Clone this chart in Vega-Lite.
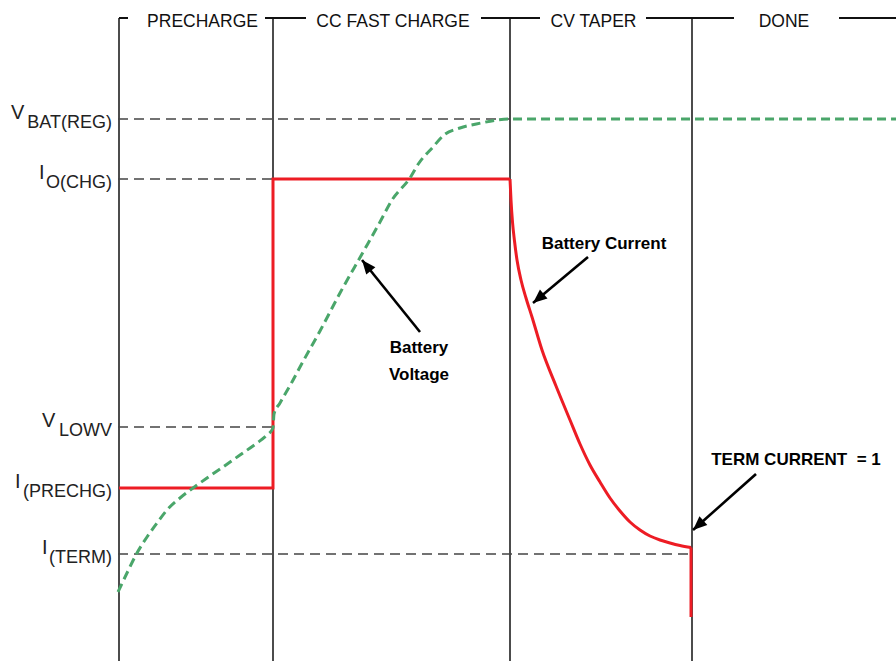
{
  "$schema": "https://vega.github.io/schema/vega-lite/v6.json",
  "autosize": "none",
  "width": 896,
  "height": 661,
  "padding": 0,
  "background": "white",
  "config": {"view": {"stroke": null}},
  "datasets": {
    "phases": [{"t": 119}, {"t": 273}, {"t": 510}, {"t": 692}],
    "headerSegs": [
      {"t1": 119, "t2": 128},
      {"t1": 265, "t2": 306},
      {"t1": 481, "t2": 540},
      {"t1": 646, "t2": 734},
      {"t1": 839, "t2": 896}
    ],
    "headers": [
      {"name": "PRECHARGE", "t": 202.5},
      {"name": "CC FAST CHARGE", "t": 393},
      {"name": "CV TAPER", "t": 593.5},
      {"name": "DONE", "t": 784}
    ],
    "levels": [
      {"main": "V", "sub": "BAT(REG)", "level": 119, "labelT": 11, "t1": 118, "t2": 510},
      {"main": "I", "sub": "O(CHG)", "level": 179, "labelT": 39, "t1": 118, "t2": 273},
      {"main": "V", "sub": "LOWV", "level": 427, "labelT": 42, "t1": 118, "t2": 273},
      {"main": "I", "sub": "(PRECHG)", "level": 488, "labelT": 15, "t1": 118, "t2": 118},
      {"main": "I", "sub": "(TERM)", "level": 554, "labelT": 42, "t1": 118, "t2": 692}
    ],
    "voltage": [
      {"t": 118, "v": 592}, {"t": 127, "v": 573}, {"t": 137, "v": 553}, {"t": 147, "v": 537},
      {"t": 157, "v": 523}, {"t": 167, "v": 510}, {"t": 180, "v": 498}, {"t": 193, "v": 488},
      {"t": 207, "v": 478}, {"t": 223, "v": 467}, {"t": 240, "v": 455}, {"t": 257, "v": 443},
      {"t": 266, "v": 436}, {"t": 273, "v": 428}, {"t": 274, "v": 414}, {"t": 280, "v": 403},
      {"t": 292, "v": 382}, {"t": 300, "v": 367}, {"t": 320, "v": 331}, {"t": 340, "v": 293},
      {"t": 362, "v": 254}, {"t": 380, "v": 222}, {"t": 392, "v": 200}, {"t": 410, "v": 178},
      {"t": 419, "v": 163}, {"t": 433, "v": 147}, {"t": 444, "v": 135}, {"t": 460, "v": 128},
      {"t": 481, "v": 123}, {"t": 497, "v": 120}, {"t": 510, "v": 119}, {"t": 896, "v": 119}
    ],
    "currentStep": [
      {"i": 1, "t": 119, "v": 488}, {"i": 2, "t": 273, "v": 488}, {"i": 3, "t": 273, "v": 179},
      {"i": 4, "t": 510, "v": 179}
    ],
    "currentTaper": [
      {"t": 510, "v": 179}, {"t": 511, "v": 200}, {"t": 512.5, "v": 222}, {"t": 514.5, "v": 241},
      {"t": 517, "v": 260}, {"t": 521, "v": 280}, {"t": 526, "v": 298}, {"t": 532, "v": 317},
      {"t": 542, "v": 350}, {"t": 556, "v": 386}, {"t": 570, "v": 420}, {"t": 580, "v": 444},
      {"t": 590, "v": 465}, {"t": 600, "v": 482}, {"t": 610, "v": 498}, {"t": 620, "v": 511},
      {"t": 630, "v": 522}, {"t": 640, "v": 530}, {"t": 650, "v": 536}, {"t": 660, "v": 540},
      {"t": 670, "v": 543}, {"t": 680, "v": 545.5}, {"t": 691, "v": 547.5}
    ],
    "currentDrop": [
      {"t": 691, "v": 547.5}, {"t": 691, "v": 617}
    ],
    "arrows": [
      {"arrow": "voltage", "t": 420, "v": 332, "t2": 362, "v2": 260},
      {"arrow": "current", "t": 588, "v": 257, "t2": 533, "v2": 303},
      {"arrow": "term", "t": 756, "v": 474, "t2": 693, "v2": 530}
    ],
    "notes": [
      {"text": "Battery\nVoltage", "t": 419, "v": 353},
      {"text": "Battery Current", "t": 604, "v": 249},
      {"text": "TERM CURRENT\u00a0 = 1", "t": 796, "v": 465}
    ]
  },
  "encoding": {
    "x": {"type": "quantitative", "scale": {"domain": [0, 896], "nice": false, "zero": false}, "axis": null},
    "y": {"type": "quantitative", "scale": {"domain": [0, 661], "nice": false, "zero": false, "reverse": true}, "axis": null}
  },
  "layer": [
    {
      "data": {"name": "phases"},
      "mark": {"type": "rule", "color": "#111111", "strokeWidth": 1.5},
      "encoding": {
        "x": {"field": "t", "type": "quantitative"},
        "y": {"datum": 18},
        "y2": {"datum": 661}
      }
    },
    {
      "data": {"name": "headerSegs"},
      "mark": {"type": "rule", "color": "#111111", "strokeWidth": 2},
      "encoding": {
        "x": {"field": "t1", "type": "quantitative"},
        "x2": {"field": "t2"},
        "y": {"datum": 18}
      }
    },
    {
      "data": {"name": "headers"},
      "mark": {"type": "text", "font": "Liberation Sans", "fontSize": 17.5, "color": "#111111", "align": "center", "baseline": "alphabetic"},
      "encoding": {
        "x": {"field": "t", "type": "quantitative"},
        "y": {"datum": 26.5},
        "text": {"field": "name"}
      }
    },
    {
      "data": {"name": "levels"},
      "mark": {"type": "rule", "color": "#444444", "strokeWidth": 1.3, "strokeDash": [10, 6]},
      "encoding": {
        "x": {"field": "t1", "type": "quantitative"},
        "x2": {"field": "t2"},
        "y": {"field": "level", "type": "quantitative"}
      }
    },
    {
      "data": {"name": "levels"},
      "mark": {"type": "text", "font": "Liberation Sans", "fontSize": 20, "color": "#222222", "align": "left", "baseline": "alphabetic", "dy": 0},
      "encoding": {
        "x": {"field": "labelT", "type": "quantitative"},
        "y": {"field": "level", "type": "quantitative"},
        "text": {"field": "main"}
      }
    },
    {
      "data": {"name": "levels"},
      "mark": {"type": "text", "font": "Liberation Sans", "fontSize": 18, "color": "#222222", "align": "right", "baseline": "alphabetic", "dy": 9},
      "encoding": {
        "x": {"datum": 112},
        "y": {"field": "level", "type": "quantitative"},
        "text": {"field": "sub"}
      }
    },
    {
      "data": {"name": "currentStep"},
      "mark": {"type": "line", "color": "#ed1c24", "strokeWidth": 3, "strokeJoin": "miter"},
      "encoding": {
        "x": {"field": "t", "type": "quantitative"},
        "y": {"field": "v", "type": "quantitative"},
        "order": {"field": "i"}
      }
    },
    {
      "data": {"name": "currentTaper"},
      "mark": {"type": "line", "color": "#ed1c24", "strokeWidth": 3, "interpolate": "monotone"},
      "encoding": {
        "x": {"field": "t", "type": "quantitative"},
        "y": {"field": "v", "type": "quantitative"},
        "order": {"field": "t"}
      }
    },
    {
      "data": {"name": "currentDrop"},
      "mark": {"type": "line", "color": "#ed1c24", "strokeWidth": 3},
      "encoding": {
        "x": {"field": "t", "type": "quantitative"},
        "y": {"field": "v", "type": "quantitative"}
      }
    },
    {
      "data": {"name": "voltage"},
      "mark": {"type": "line", "color": "#4aa66a", "strokeWidth": 3, "strokeDash": [9, 5], "interpolate": "monotone"},
      "encoding": {
        "x": {"field": "t", "type": "quantitative"},
        "y": {"field": "v", "type": "quantitative"},
        "order": {"field": "t"}
      }
    },
    {
      "data": {"name": "arrows"},
      "mark": {"type": "rule", "color": "#000000", "strokeWidth": 2.6},
      "encoding": {
        "x": {"field": "t", "type": "quantitative"},
        "y": {"field": "v", "type": "quantitative"},
        "x2": {"field": "t2"},
        "y2": {"field": "v2"}
      }
    },
    {
      "data": {"name": "arrows"},
      "transform": [{"filter": "datum.arrow == 'voltage'"}],
      "mark": {"type": "point", "shape": "M0,0L0.42,1L-0.42,1Z", "filled": true, "color": "#000000", "size": 784, "opacity": 1, "angle": 321},
      "encoding": {
        "x": {"field": "t2", "type": "quantitative"},
        "y": {"field": "v2", "type": "quantitative"}
      }
    },
    {
      "data": {"name": "arrows"},
      "transform": [{"filter": "datum.arrow == 'current'"}],
      "mark": {"type": "point", "shape": "M0,0L0.42,1L-0.42,1Z", "filled": true, "color": "#000000", "size": 784, "opacity": 1, "angle": 230},
      "encoding": {
        "x": {"field": "t2", "type": "quantitative"},
        "y": {"field": "v2", "type": "quantitative"}
      }
    },
    {
      "data": {"name": "arrows"},
      "transform": [{"filter": "datum.arrow == 'term'"}],
      "mark": {"type": "point", "shape": "M0,0L0.42,1L-0.42,1Z", "filled": true, "color": "#000000", "size": 784, "opacity": 1, "angle": 228},
      "encoding": {
        "x": {"field": "t2", "type": "quantitative"},
        "y": {"field": "v2", "type": "quantitative"}
      }
    },
    {
      "data": {"name": "notes"},
      "mark": {"type": "text", "font": "Liberation Sans", "fontSize": 17, "fontWeight": "bold", "color": "#000000", "align": "center", "baseline": "alphabetic", "lineBreak": "\n", "lineHeight": 27},
      "encoding": {
        "x": {"field": "t", "type": "quantitative"},
        "y": {"field": "v", "type": "quantitative"},
        "text": {"field": "text"}
      }
    }
  ]
}
